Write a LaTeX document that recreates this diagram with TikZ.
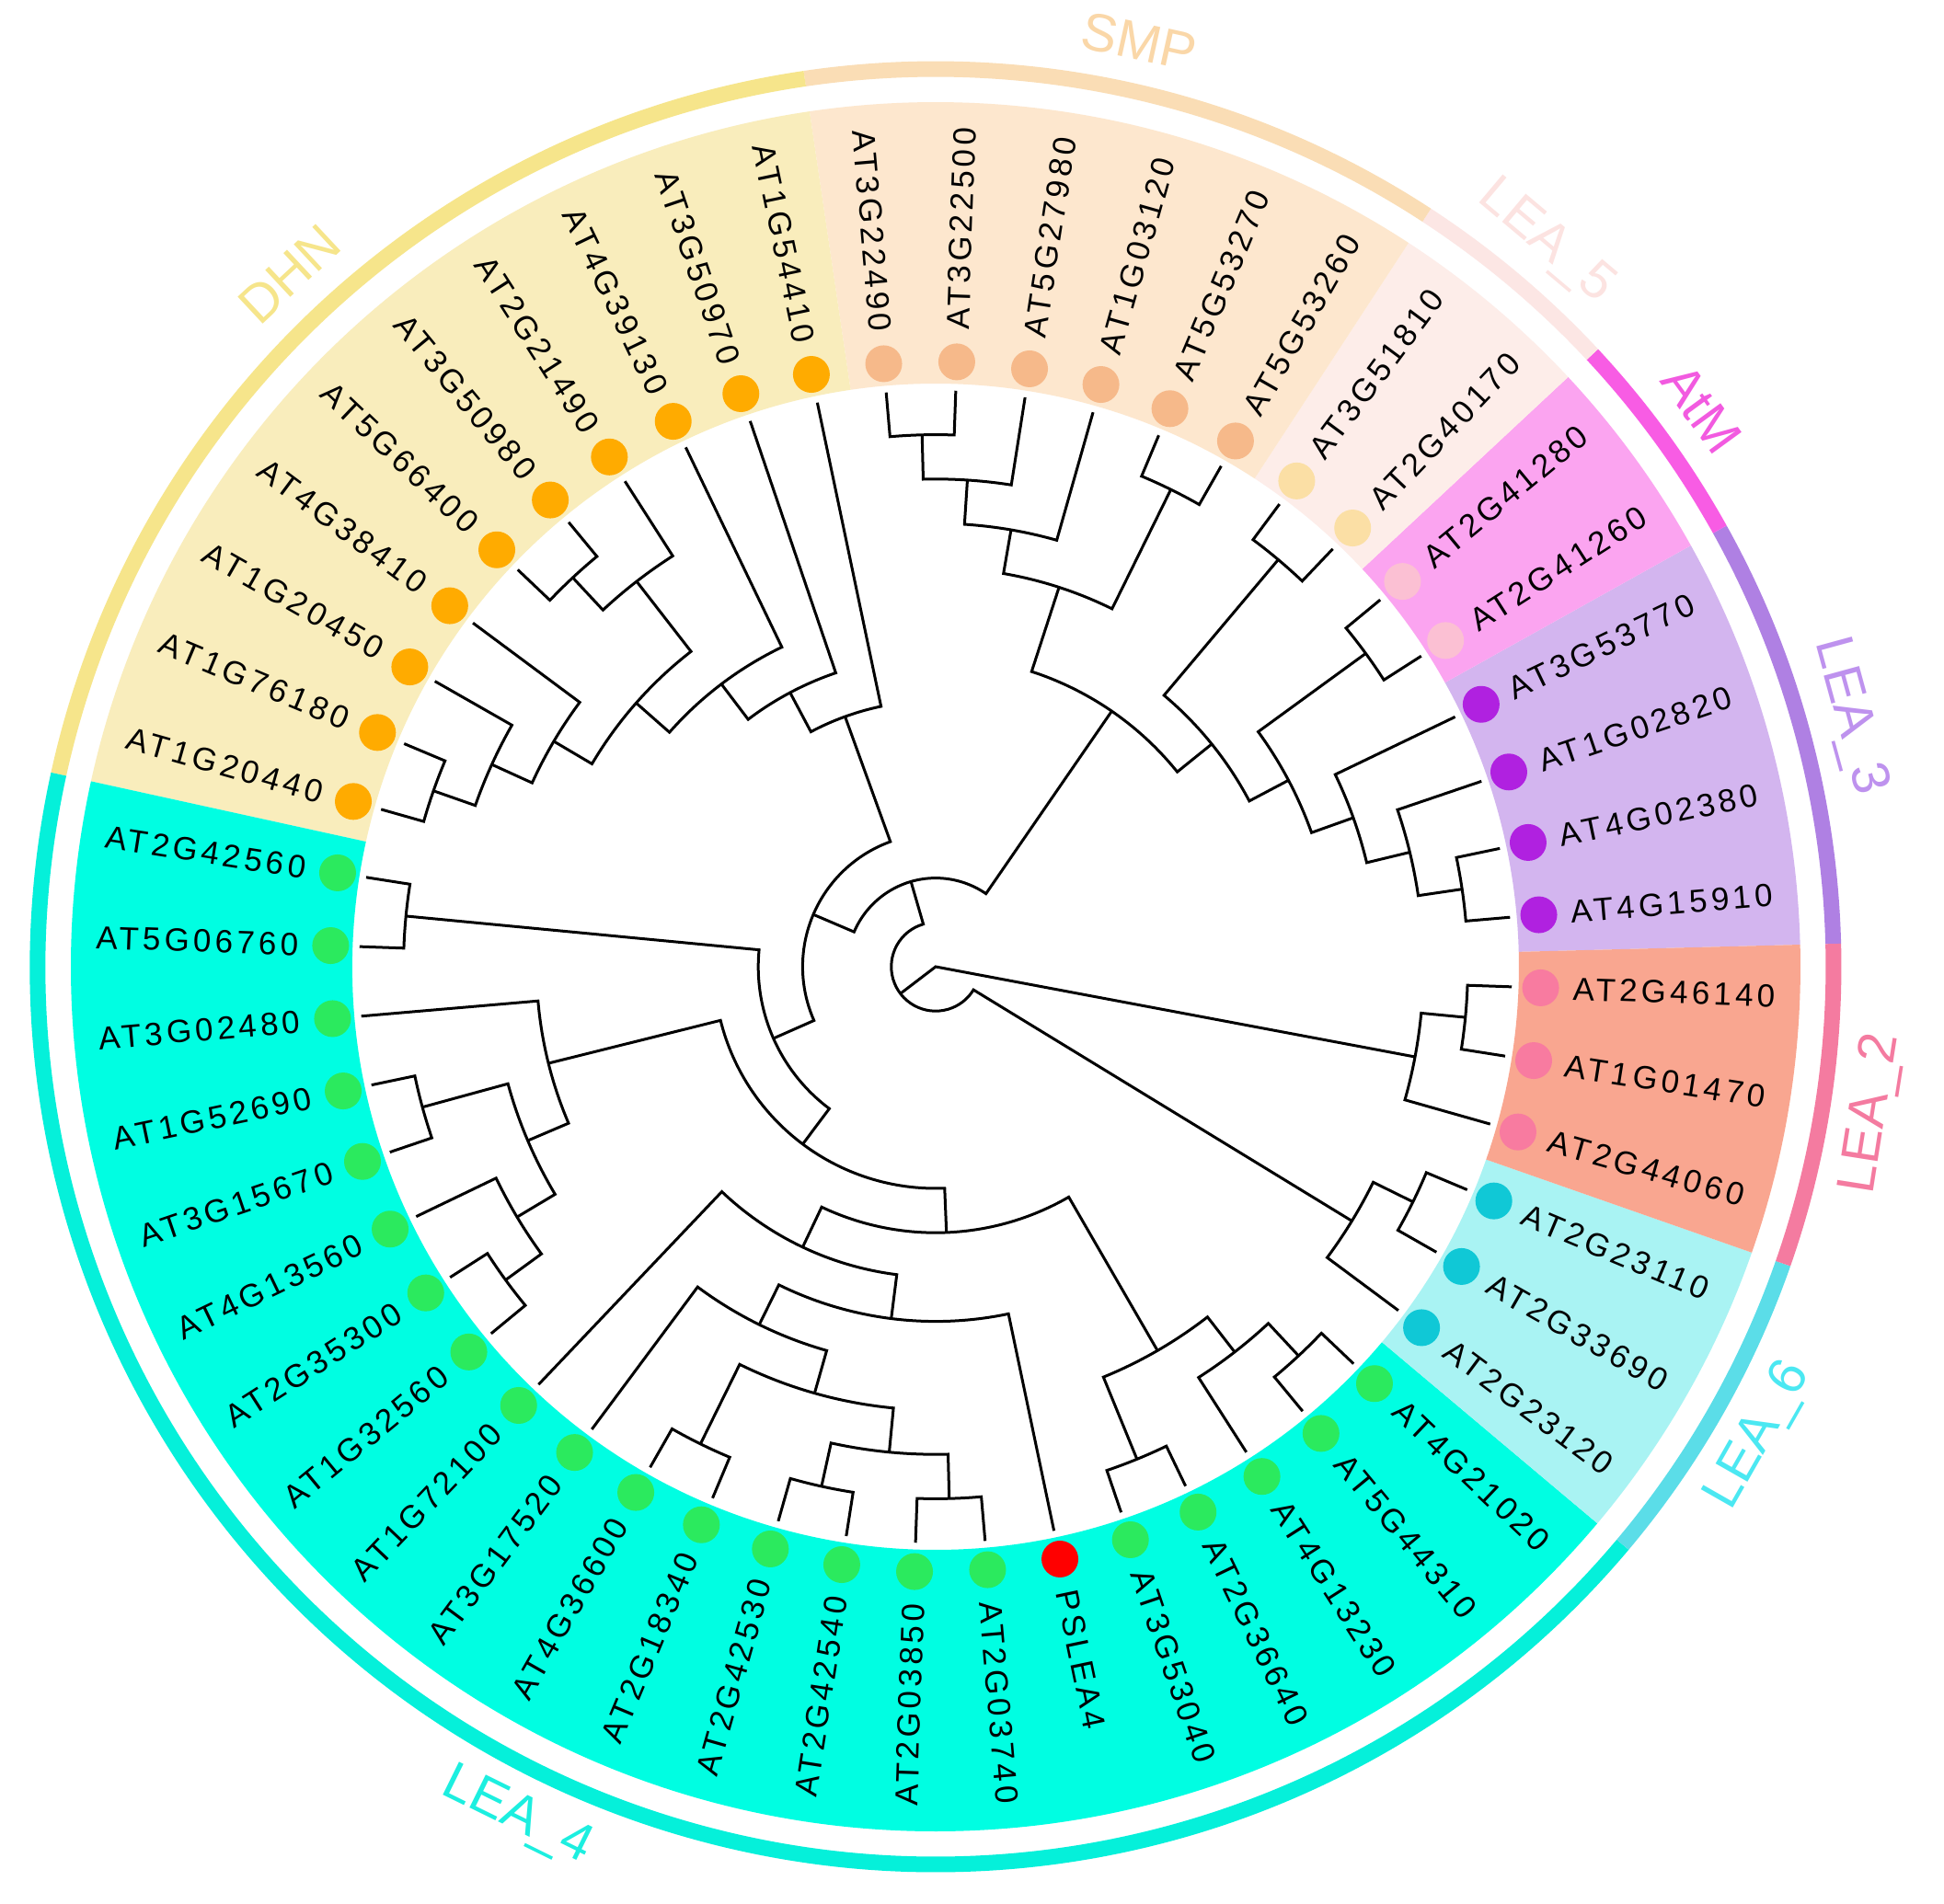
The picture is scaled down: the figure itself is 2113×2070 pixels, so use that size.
\documentclass[tikz,border=0pt]{standalone}
\usepackage{fontspec}
\setmainfont{Liberation Sans}
\newfontfamily\leaffont[LetterSpace=12]{Liberation Sans}
% group colours: Band / Dot / Ring / Lab
\definecolor{smpBand}{HTML}{FDE7CE}\definecolor{smpDot}{HTML}{F6B98A}\definecolor{smpRing}{HTML}{FADDB5}\definecolor{smpLab}{HTML}{FAD7A8}
\definecolor{lfiveBand}{HTML}{FDEDE9}\definecolor{lfiveDot}{HTML}{FBDFA5}\definecolor{lfiveRing}{HTML}{FCE6E4}\definecolor{lfiveLab}{HTML}{FCE3E1}
\definecolor{atmBand}{HTML}{FBA4F0}\definecolor{atmDot}{HTML}{FBC0D3}\definecolor{atmRing}{HTML}{F85CE4}\definecolor{atmLab}{HTML}{F25AE0}
\definecolor{lthreeBand}{HTML}{D3B5EF}\definecolor{lthreeDot}{HTML}{B021E0}\definecolor{lthreeRing}{HTML}{AF80E3}\definecolor{lthreeLab}{HTML}{BE92EE}
\definecolor{ltwoBand}{HTML}{F9A690}\definecolor{ltwoDot}{HTML}{F87BA0}\definecolor{ltwoRing}{HTML}{F47BA0}\definecolor{ltwoLab}{HTML}{F47BA0}
\definecolor{lsixBand}{HTML}{A9F3F3}\definecolor{lsixDot}{HTML}{10C8D6}\definecolor{lsixRing}{HTML}{5BDDE8}\definecolor{lsixLab}{HTML}{4BE8F2}
\definecolor{lfourBand}{HTML}{00FEE2}\definecolor{lfourDot}{HTML}{2BEA5E}\definecolor{lfourRing}{HTML}{05F0DA}\definecolor{lfourLab}{HTML}{1CEFE0}
\definecolor{dhnBand}{HTML}{F9EDBC}\definecolor{dhnDot}{HTML}{FFAB00}\definecolor{dhnRing}{HTML}{F6E58B}\definecolor{dhnLab}{HTML}{F6E58B}
\definecolor{redDot}{HTML}{FF0000}
\def\u{48.2pt}
% clade: a1 a2 level(child1) level(node) level(child2)
\newcommand\clade[5]{\draw[tree] (#1:#3*\u) -- (#1:#4*\u) arc[start angle=#1,end angle=#2,radius=#4*\u] -- (#2:#5*\u);}
\begin{document}
\begin{tikzpicture}[
  tree/.style={line width=3pt, line join=miter, line cap=butt, black},
  leaf/.style={font=\leaffont\fontsize{35}{40}\selectfont, inner sep=0pt, text=black},
  grp/.style={font=\fontsize{58}{64}\selectfont, inner sep=0pt}]
\useasboundingbox[fill=white] (-1017pt,-1019pt) rectangle (1096pt,1051pt);
% coloured bands and outer ring
\foreach \a/\b/\g in {1.462/29.154/lthree, 29.154/43.0/atm, 43.0/56.846/lfive, 56.846/98.385/smp,
  98.385/167.615/dhn, 167.615/319.923/lfour, 319.923/340.692/lsix, 340.692/361.462/ltwo}{
  \fill[\g Band] (\a:634pt) arc[start angle=\a,end angle=\b,radius=634pt] -- (\b:940pt)
     arc[start angle=\b,end angle=\a,radius=940pt] -- cycle;
  \draw[\g Ring, line width=17pt] (\a:976pt) arc[start angle=\a,end angle=\b,radius=976pt];
}
% group labels
\foreach \nm/\a/\g in {LEA\_3/15.308/lthree, AtM/36.077/atm, LEA\_5/49.923/lfive, SMP/77.615/smp,
  DHN/133.0/dhn, LEA\_4/243.769/lfour, LEA\_6/330.308/lsix, LEA\_2/351.077/ltwo}{
  \pgfmathsetmacro\rot{sin(\a)>=0 ? \a-90 : \a+90}
  \node[grp, text=\g Lab, rotate=\rot] (grp\g) at (\a:1030pt) {\nm};
}
% leaves: dots and labels
\foreach \k/\nm/\g in {1/AT4G15910/lthree, 2/AT4G02380/lthree, 3/AT1G02820/lthree, 4/AT3G53770/lthree,
  5/AT2G41260/atm, 6/AT2G41280/atm, 7/AT2G40170/lfive, 8/AT3G51810/lfive,
  9/AT5G53260/smp, 10/AT5G53270/smp, 11/AT1G03120/smp, 12/AT5G27980/smp, 13/AT3G22500/smp, 14/AT3G22490/smp,
  15/AT1G54410/dhn, 16/AT3G50970/dhn, 17/AT4G39130/dhn, 18/AT2G21490/dhn, 19/AT3G50980/dhn,
  20/AT5G66400/dhn, 21/AT4G38410/dhn, 22/AT1G20450/dhn, 23/AT1G76180/dhn, 24/AT1G20440/dhn,
  25/AT2G42560/lfour, 26/AT5G06760/lfour, 27/AT3G02480/lfour, 28/AT1G52690/lfour, 29/AT3G15670/lfour,
  30/AT4G13560/lfour, 31/AT2G35300/lfour, 32/AT1G32560/lfour, 33/AT1G72100/lfour, 34/AT3G17520/lfour,
  35/AT4G36600/lfour, 36/AT2G18340/lfour, 37/AT2G42530/lfour, 38/AT2G42540/lfour, 39/AT2G03850/lfour,
  40/AT2G03740/lfour, 41/PSLEA4/red, 42/AT3G53040/lfour, 43/AT2G36640/lfour, 44/AT4G13230/lfour,
  45/AT5G44310/lfour, 46/AT4G21020/lfour, 47/AT2G23120/lsix, 48/AT2G33690/lsix, 49/AT2G23110/lsix,
  50/AT2G44060/ltwo, 51/AT1G01470/ltwo, 52/AT2G46140/ltwo}{
  \pgfmathsetmacro\a{-2+6.923077*\k}
  \fill[\g Dot] (\a:658pt) circle[radius=20pt];
  \pgfmathtruncatemacro\side{(\a<90||\a>270) ? 1 : 0}
  \ifnum\side=1
    \node[leaf, rotate=\a, anchor=west] (lab\k) at (\a:693pt) {\nm};
  \else
    \pgfmathsetmacro\rot{\a-180}
    \node[leaf, rotate=\rot, anchor=east] (lab\k) at (\a:693pt) {\nm};
  \fi
}
% ---- tree ----
% LEA_3, AtM, LEA_5
\clade{4.923}{11.846}{13}{12}{13}
\clade{8.385}{18.769}{12}{11}{13}
\clade{13.577}{25.692}{11}{10}{13}
\clade{32.615}{39.538}{13}{12}{13}
\clade{19.635}{36.077}{10}{9}{12}
\clade{46.462}{53.385}{13}{12}{13}
\clade{27.856}{49.923}{9}{8}{12}
% SMP
\clade{60.308}{67.231}{13}{12}{13}
\clade{88.000}{94.923}{13}{12}{13}
\clade{81.077}{91.462}{13}{11}{12}
\clade{74.154}{86.269}{13}{10}{11}
\clade{63.769}{80.212}{12}{9}{10}
\clade{38.890}{71.990}{8}{7}{9}
% DHN
\clade{129.538}{136.462}{13}{12}{13}
\clade{122.615}{133.0}{13}{11}{12}
\clade{157.231}{164.154}{13}{12}{13}
\clade{150.308}{160.692}{13}{11}{12}
\clade{143.385}{155.5}{13}{10}{11}
\clade{127.808}{149.442}{11}{9}{10}
\clade{115.692}{138.625}{13}{8}{9}
\clade{108.769}{127.159}{13}{7}{8}
\clade{101.846}{117.964}{13}{6}{7}
% LEA_4
\clade{171.077}{178.0}{13}{12}{13}
\clade{191.846}{198.769}{13}{12}{13}
\clade{212.615}{219.538}{13}{12}{13}
\clade{205.692}{216.077}{13}{11}{12}
\clade{195.308}{210.885}{12}{10}{11}
\clade{184.923}{203.096}{13}{9}{10}
\clade{240.308}{247.231}{13}{12}{13}
\clade{254.154}{261.077}{13}{12}{13}
\clade{268.0}{274.923}{13}{12}{13}
\clade{257.615}{271.462}{12}{11}{12}
\clade{243.769}{264.538}{12}{10}{11}
\clade{233.385}{254.154}{13}{9}{10}
\clade{243.769}{281.846}{9}{8}{13}
\clade{226.462}{262.808}{13}{7}{8}
\clade{288.769}{295.692}{13}{12}{13}
\clade{309.538}{316.462}{13}{12}{13}
\clade{302.615}{313.0}{13}{11}{12}
\clade{292.231}{307.808}{12}{10}{11}
\clade{244.635}{300.019}{7}{6}{10}
\clade{194.010}{272.327}{9}{5}{6}
\clade{174.538}{233.168}{12}{4}{5}
\clade{109.905}{203.853}{6}{3}{4}
\clade{55.440}{156.879}{7}{2}{3}
% LEA_6
\clade{330.308}{337.231}{13}{12}{13}
\clade{323.385}{333.769}{13}{11}{12}
\clade{106.160}{328.577}{2}{1}{11}
% LEA_2
\clade{351.077}{358.0}{13}{12}{13}
\clade{344.154}{354.538}{13}{11}{12}
% root
\coordinate (root) at (0,0);
\draw[tree] (217.368:1*\u) -- (root) -- (349.346:11*\u);
\end{tikzpicture}
\end{document}
